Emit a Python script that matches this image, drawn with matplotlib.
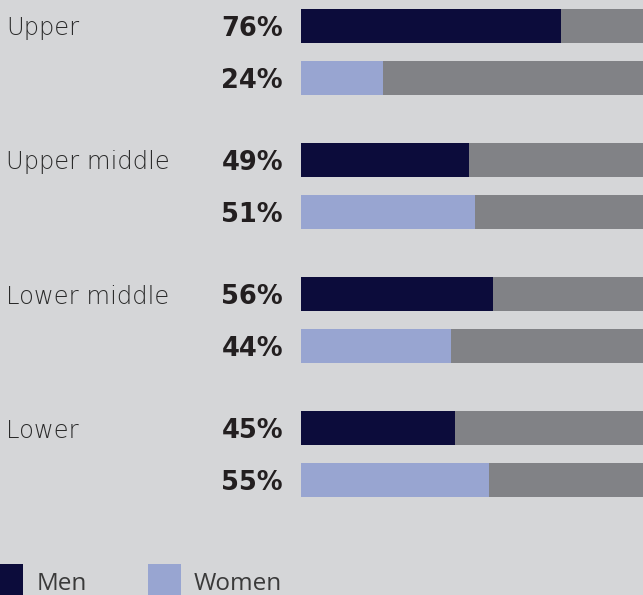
import matplotlib
matplotlib.use("Agg")
import matplotlib.pyplot as plt
from matplotlib.patches import Rectangle

categories = ["Upper", "Upper middle", "Lower middle", "Lower"]
men = [76, 49, 56, 45]
women = [24, 51, 44, 55]
series_names = ["Men", "Women"]

BG = "#d5d6d8"
NAVY = "#0c0c3b"
LIGHT = "#98a5d1"
GRAY = "#818286"
TXT = "#231f20"

W, H = 643, 595
fig = plt.figure(figsize=(W / 100, H / 100), dpi=100)
fig.patch.set_facecolor(BG)

# bars axes: x from 301px to right edge, y in pixel units (top=0)
ax = fig.add_axes([301 / W, 0, 1 - 301 / W, 1])
ax.set_facecolor(BG)
ax.set_xlim(0, 100)
ax.set_ylim(H, 0)
ax.axis("off")

bar_h = 34
for i, cat in enumerate(categories):
    y_m = 26 + i * 134
    y_w = y_m + 52
    for y, v, c in ((y_m, men[i], NAVY), (y_w, women[i], LIGHT)):
        ax.barh(y, v, height=bar_h, left=0, color=c, linewidth=0)
        ax.barh(y, 100 - v, height=bar_h, left=v, color=GRAY, linewidth=0)
        ax.annotate(f"{v}%", xy=(0, y), xytext=(-18, 0), textcoords="offset pixels",
                    ha="right", va="center_baseline", fontsize=18.5, fontweight="bold",
                    family="DejaVu Sans", color=TXT)
    # category label at left edge of figure
    ax.annotate(cat, xy=(0, y_m), xycoords=("figure pixels", "data"),
                xytext=(6, 0), textcoords="offset pixels", ha="left",
                va="center_baseline", fontsize=17.5, fontweight="light",
                family="DejaVu Sans", color="#2a2a2a")

def fig_px(x, y):
    return x / W, 1 - y / H

# legend
for x0, col, name, tx in ((-10, NAVY, series_names[0], 37), (148, LIGHT, series_names[1], 194)):
    fx, fy = fig_px(x0, 597)
    fig.add_artist(Rectangle((fx, fy), 33 / W, 33 / H, transform=fig.transFigure,
                             facecolor=col, edgecolor="none"))
    tx_, ty_ = fig_px(tx, 590)
    fig.text(tx_, ty_, name, ha="left", va="baseline", fontsize=17.5,
             family="Open Sans", color="#3a3a3a")

fig.savefig("out.png", dpi=100, facecolor=BG)
